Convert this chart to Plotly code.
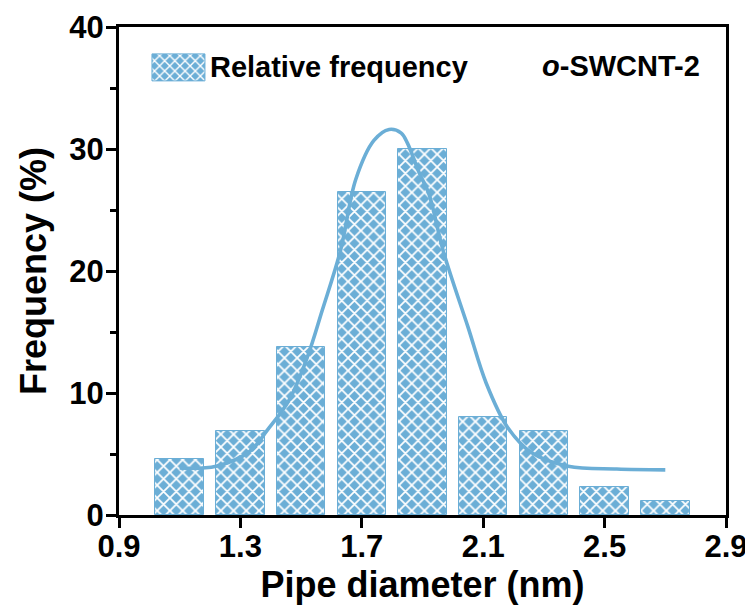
import plotly.graph_objects as go

# ---- data ----
diameter_bins = [1.1, 1.3, 1.5, 1.7, 1.9, 2.1, 2.3, 2.5, 2.7]
rel_frequency = [4.6, 6.9, 13.8, 26.5, 30.0, 8.0, 6.9, 2.3, 1.15]

fit_x = [1.10, 1.22, 1.33, 1.39, 1.46, 1.52, 1.57, 1.63, 1.68, 1.74, 1.79,
         1.83, 1.85, 1.89, 1.92, 1.97, 2.05, 2.11, 2.18, 2.26, 2.38, 2.54, 2.70]
fit_y = [3.85, 4.0, 5.2, 7.0, 9.4, 12.9, 16.8, 21.7, 27.5, 30.7, 31.6,
         31.3, 30.5, 28.0, 26.4, 21.5, 15.4, 10.8, 7.2, 5.1, 4.0, 3.77, 3.7]

x_ticks = [0.9, 1.3, 1.7, 2.1, 2.5, 2.9]
y_ticks = [0, 10, 20, 30, 40]

BLUE = "#6BAED6"
FONT = "Arial, 'Liberation Sans', sans-serif"

fig = go.Figure()
fig.add_trace(go.Bar(
    x=diameter_bins, y=rel_frequency, width=0.16,
    name="Relative frequency",
    marker=dict(color=BLUE, line=dict(color=BLUE, width=1),
                pattern=dict(shape="x", fgcolor="white", bgcolor=BLUE,
                             size=9, solidity=0.35, fillmode="replace")),
    showlegend=True,
))
fig.add_trace(go.Scatter(
    x=fit_x, y=fit_y, mode="lines",
    line=dict(color=BLUE, width=3.6, shape="spline", smoothing=1.0),
    showlegend=False,
))

axis_common = dict(
    showline=True, linewidth=3, linecolor="black", mirror=True,
    ticks="outside", ticklen=10, tickwidth=3, tickcolor="black",
    showgrid=False, zeroline=False, automargin=False,
    tickfont=dict(family=FONT, size=31, color="black", weight="bold"),
)

fig.update_layout(
    width=745, height=605,
    margin=dict(l=111, r=27, t=19, b=98),
    paper_bgcolor="white", plot_bgcolor="white",
    font=dict(family=FONT, color="black"),
    bargap=0,
    xaxis=dict(range=[0.9, 2.9], tickvals=x_ticks,
               ticktext=[f"{v:.1f}" for v in x_ticks],
               ticklabelstandoff=-8,
               title=dict(text="Pipe diameter (nm)", standoff=2,
                          font=dict(family=FONT, size=36, color="black", weight="bold")),
               **axis_common),
    yaxis=dict(range=[0, 40], tickvals=y_ticks,
               ticklabelstandoff=-4,
               minor=dict(dtick=5, ticks="outside", ticklen=6, tickwidth=3, tickcolor="black"),
               title=dict(text="Frequency (%)", standoff=12,
                          font=dict(family=FONT, size=36, color="black", weight="bold")),
               **axis_common),
    legend=dict(x=0.051, y=0.92, xanchor="left", yanchor="middle",
                itemwidth=50,
                bgcolor="rgba(0,0,0,0)",
                font=dict(family=FONT, size=29, color="black", weight="bold")),
    annotations=[dict(
        text="<i>o</i>-SWCNT-2", xref="paper", yref="paper",
        x=0.827, y=0.92, xanchor="center", yanchor="middle", showarrow=False,
        font=dict(family=FONT, size=29, color="black", weight="bold"),
    )],
)

# enlarge the legend swatch to the wide patterned box of the reference
post_js = """
var gd = document.getElementById('{plot_id}');
gd.querySelectorAll('.legend .legendpoints path').forEach(function(p){
    p.setAttribute('d', 'M-28,-12h53v27h-53z');
});
"""

fig.write_html("out.html", post_script=post_js)
